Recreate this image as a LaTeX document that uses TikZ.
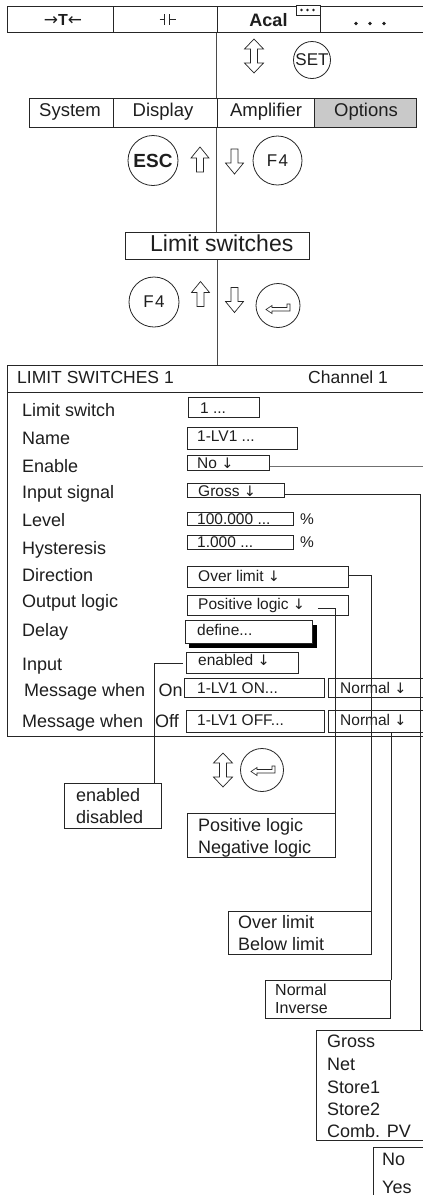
\documentclass[tikz,border=0pt]{standalone}
\usepackage{fontspec}
\setmainfont{Liberation Sans}
\newfontfamily\arrf{DejaVu Sans}
\newcommand\myDown{{\arrf\fontsize{14.5}{14.5}\selectfont ↓}}
\usetikzlibrary{calc}
\definecolor{ln}{HTML}{262626}
\definecolor{gln}{HTML}{707070}
\definecolor{mln}{HTML}{4A4A4A}
\definecolor{optfill}{HTML}{C9C9C9}
\definecolor{txt}{HTML}{1E1E1E}
\tikzset{
  bx/.style={draw=ln, line width=0.9pt, inner sep=0pt, anchor=north west, fill=white},
  lab/.style={inner sep=0pt, anchor=base west, text=txt, font=\fontsize{18}{18}\selectfont},
  val/.style={inner sep=0pt, anchor=base west, text=txt, font=\fontsize{15.5}{15.5}\selectfont},
  lst/.style={inner sep=0pt, anchor=base west, text=txt, font=\fontsize{18}{18}\selectfont},
  ctr/.style={inner sep=0pt, anchor=base, text=txt},
  wire/.style={draw=ln, line width=0.8pt},
  gwire/.style={draw=gln, line width=0.8pt},
  mwire/.style={draw=mln, line width=0.9pt},
  keyc/.style={circle, draw=ln, line width=0.8pt, inner sep=0pt, text=txt},
  hol/.style={draw=ln, line width=0.7pt, line join=miter, fill=white},
  uparr/.pic={\path[hol] (0,-12.5) -- (9,-1.5) -- (3.5,-1.5) -- (3.5,12.5) -- (-3.5,12.5) -- (-3.5,-1.5) -- (-9,-1.5) -- cycle;},
  dnarr/.pic={\path[hol] (0,12.5) -- (9,1.5) -- (3.5,1.5) -- (3.5,-12.5) -- (-3.5,-12.5) -- (-3.5,1.5) -- (-9,1.5) -- cycle;},
  udarr/.pic={\path[hol] (0,-17) -- (9.5,-7) -- (3.5,-7) -- (3.5,7) -- (9.5,7) -- (0,17) -- (-9.5,7) -- (-3.5,7) -- (-3.5,-7) -- (-9.5,-7) -- cycle;},
  entersym/.pic={\path[hol, line width=0.6pt] (-12,1.5) -- (-6,-2.5) -- (-6,-0.5) -- (9,-0.5) -- (9,-4) -- (12,-4) -- (12,3) -- (-6,3) -- (-6,5.5) -- cycle;},
}
\begin{document}
\begin{tikzpicture}[x=1pt,y=-1pt]
\useasboundingbox (0,0) rectangle (423,1195);
\fill[white] (0,0) rectangle (423,1195);

% ---------- top bar ----------
\node[bx, minimum width=106pt, minimum height=26pt] (c1) at (7,6) {};
\node[bx, minimum width=103.5pt, minimum height=26pt] (c2) at (113,6) {};
\node[bx, minimum width=103.5pt, minimum height=26pt] (c3) at (216.5,6) {};
\node[bx, minimum width=102.5pt, minimum height=26pt] (c4) at (320,6) {};
\node[ctr, font=\fontsize{16}{16}\selectfont] (tT) at (63,25) {{\arrf\fontsize{17}{17}\selectfont →}\textbf{T}{\arrf\fontsize{17}{17}\selectfont ←}};
\draw[ln, line width=1pt] (159.5,19.5) -- (164,19.5) (164,14) -- (164,25) (169.5,14) -- (169.5,25) (169.5,19.5) -- (176,19.5);
\node[ctr, font=\bfseries\fontsize{18}{18}\selectfont] (tacal) at (268.5,26.5) {Acal};
\node[bx, minimum width=23.5pt, minimum height=10pt] (mini) at (296,5) {};
\foreach \x in {301.5,307.5,313.5} \fill[txt] (\x,10) circle[radius=1.4pt];
\foreach \x in {356,370,384} \fill[txt] (\x,23.5) circle[radius=1.8pt];

% ---------- SET ----------
\pic at (254,56) {udarr};
\node[keyc, minimum size=37pt, font=\fontsize{17}{17}\selectfont] (kset) at (312,60) {SET};

% ---------- options bar ----------
\node[bx, minimum width=84pt, minimum height=29pt] (osys) at (29,98) {};
\node[bx, minimum width=103.5pt, minimum height=29pt] (odisp) at (113,98) {};
\node[bx, minimum width=97.5pt, minimum height=29pt] (oamp) at (216.5,98) {};
\node[bx, fill=optfill, minimum width=102pt, minimum height=29pt] (oopt) at (314,98) {};
\node[ctr, font=\fontsize{18.5}{18.5}\selectfont] (tsys) at (70,116) {System};
\node[ctr, font=\fontsize{18.5}{18.5}\selectfont] (tdisp) at (163,116) {Display};
\node[ctr, font=\fontsize{18.5}{18.5}\selectfont] (tamp) at (266,116) {Amplifier};
\node[ctr, font=\fontsize{18.5}{18.5}\selectfont] (topt) at (366,116) {Options};

% ---------- ESC / F4 ----------
\node[keyc, minimum size=50pt, font=\bfseries\fontsize{19}{19}\selectfont] (kesc) at (153,160.5) {ESC};
\pic at (200,159.5) {uparr};
\pic at (234.5,161.5) {dnarr};
\node[keyc, minimum size=49pt, font=\fontsize{17}{17}\selectfont] (kf4a) at (277.5,160.5) {F\kern1.5pt4};

% ---------- Limit switches ----------
\node[bx, minimum width=184pt, minimum height=27pt] (lsw) at (124.5,232) {};
\node[inner sep=0pt, anchor=base west, text=txt, font=\fontsize{23}{23}\selectfont] (tlsw) at (150,251.5) {Limit switches};

\node[keyc, minimum size=50pt, font=\fontsize{17}{17}\selectfont] (kf4b) at (154,302) {F\kern1.5pt4};
\pic at (200.5,294) {uparr};
\pic at (234.5,300) {dnarr};
\node[keyc, minimum size=44pt] (kent1) at (278,305.5) {};
\pic at (278,308) {entersym};

% ---------- main dialog ----------
\node[bx, minimum width=417pt, minimum height=27pt] (hdr) at (7,365) {};
\node[bx, minimum width=417pt, minimum height=344pt] (body) at (7,392) {};
\node[inner sep=0pt, anchor=base west, text=txt, font=\fontsize{17.5}{17.5}\selectfont] (thdr) at (17,383) {LIMIT SWITCHES 1};
\node[inner sep=0pt, anchor=base west, text=txt, font=\fontsize{17.5}{17.5}\selectfont] (tch) at (308,383) {Channel 1};

\node[lab] (l1) at (22,416) {Limit switch};
\node[lab] (l2) at (22,444) {Name};
\node[lab] (l3) at (22,472) {Enable};
\node[lab] (l4) at (22,498) {Input signal};
\node[lab] (l5) at (22,526) {Level};
\node[lab] (l6) at (22,554) {Hysteresis};
\node[lab] (l7) at (22,581) {Direction};
\node[lab] (l8) at (22,607) {Output logic};
\node[lab] (l9) at (22,636) {Delay};
\node[lab] (l10) at (22,670) {Input};
\node[lab] (l11) at (24,696) {Message when};
\node[lab] (l11b) at (158.5,696) {On};
\node[lab] (l12) at (22,727) {Message when};
\node[lab] (l12b) at (155,727) {Off};

\node[bx, minimum width=71pt, minimum height=20pt] (vls) at (188,397) {};
\node[val] (tvls) at (200,413) {1 ...};
\node[bx, minimum width=110pt, minimum height=22pt] (vname) at (187,427) {};
\node[val] (tvname) at (197,441) {1-LV1 ...};
\node[bx, minimum width=82pt, minimum height=14.5pt] (ven) at (187,455) {};
\node[val] (tven) at (197,468) {No \myDown};
\node[bx, minimum width=97pt, minimum height=14pt] (vgross) at (187,483.3) {};
\node[val] (tvgross) at (198,496) {Gross \myDown};
\node[bx, minimum width=106pt, minimum height=13.5pt] (vlevel) at (187,511.7) {};
\node[val] (tvlevel) at (197,524) {100.000 ...};
\node[val] (pct1) at (300,524) {\%};
\node[bx, minimum width=106pt, minimum height=13.5pt] (vhyst) at (187,535) {};
\node[val] (tvhyst) at (197,547) {1.000 ...};
\node[val] (pct2) at (300,547) {\%};
\node[bx, minimum width=161pt, minimum height=20.7pt] (vdir) at (187,566) {};
\node[val] (tvdir) at (198,581) {Over limit \myDown};
\node[bx, minimum width=161pt, minimum height=20pt] (vout) at (187,595) {};
\node[val] (tvout) at (198,609) {Positive logic \myDown};
\node[anchor=north west, fill=black, minimum width=128pt, minimum height=23.5pt, inner sep=0pt] (dshadow) at (189,624.5) {};
\node[bx, minimum width=127pt, minimum height=22.7pt] (vdelay) at (185,620) {};
\node[val] (tvdelay) at (197,635) {define...};
\node[bx, minimum width=112pt, minimum height=21.6pt] (venab) at (186,651.7) {};
\node[val] (tvenab) at (198,665) {enabled \myDown};
\node[bx, minimum width=140pt, minimum height=18.4pt] (von) at (184,678.3) {};
\node[val] (tvon) at (197,693) {1-LV1 ON...};
\node[bx, minimum width=96pt, minimum height=18.4pt] (vnon) at (328,678.3) {};
\node[val] (tvnon) at (340,693) {Normal \myDown};
\node[bx, minimum width=138pt, minimum height=21.7pt] (voff) at (186,710) {};
\node[val] (tvoff) at (197,725) {1-LV1 OFF...};
\node[bx, minimum width=96pt, minimum height=21.7pt] (vnoff) at (328,710) {};
\node[val] (tvnoff) at (340,725) {Normal \myDown};

% ---------- bottom keys ----------
\pic at (223,770) {udarr};
\node[keyc, minimum size=43pt] (kent2) at (262,770) {};
\pic at (263,770) {entersym};

% ---------- lists ----------
\node[bx, minimum width=97pt, minimum height=45pt] (lenab) at (64,783) {};
\node[lst] (tle1) at (76,801.5) {enabled};
\node[lst] (tle2) at (76,823) {disabled};
\node[bx, minimum width=148pt, minimum height=44pt] (lpos) at (187,813) {};
\node[lst] (tlp1) at (198,831.5) {Positive logic};
\node[lst] (tlp2) at (198,853) {Negative logic};
\node[bx, minimum width=143pt, minimum height=43pt] (lover) at (228,911) {};
\node[lst] (tlo1) at (238,928) {Over limit};
\node[lst] (tlo2) at (238,950) {Below limit};
\node[bx, minimum width=125pt, minimum height=38pt] (lnorm) at (265,980) {};
\node[lst, font=\fontsize{16}{16}\selectfont] (tln1) at (275,995) {Normal};
\node[lst, font=\fontsize{16}{16}\selectfont] (tln2) at (275,1013) {Inverse};
\node[bx, minimum width=106.5pt, minimum height=110pt] (lgross) at (316,1030) {};
\node[lst] (tlg1) at (327,1047) {Gross};
\node[lst] (tlg2) at (327,1070) {Net};
\node[lst] (tlg3) at (327,1093) {Store1};
\node[lst] (tlg4) at (327,1115) {Store2};
\node[lst] (tlg5) at (327,1137) {Comb. PV};
\node[bx, minimum width=50pt, minimum height=52pt] (lyes) at (373,1147) {};
\node[lst] (tly1) at (382,1165) {No};
\node[lst] (tly2) at (382,1193) {Yes};

% ---------- connectors ----------
\draw[mwire] (c3.south west) -- (oamp.north west);
\draw[mwire] (oamp.south west) -- (oamp.south west |- lsw.north);
\draw[mwire] (lsw.south) -- (lsw.south |- hdr.north);
\draw[gwire] ([yshift=-4pt]ven.east) -| ([xshift=1.5pt]lyes.north east);
\draw[wire] ([yshift=-3.5pt]vgross.east) -| ([xshift=-3.5pt]lgross.north east);
\draw[wire] ([yshift=1.3pt]vdir.east) -| ([xshift=-1pt]lover.north east);
\draw[wire] ([xshift=-31pt,yshift=-2.5pt]vout.east) -| ([xshift=-1pt]lpos.north east);
\draw[wire] ([xshift=-3pt]venab.west) -| ([xshift=-8pt]lenab.north east);
\draw[wire] (vnoff.south -| lnorm.north east) -- (lnorm.north east);
\end{tikzpicture}
\end{document}
